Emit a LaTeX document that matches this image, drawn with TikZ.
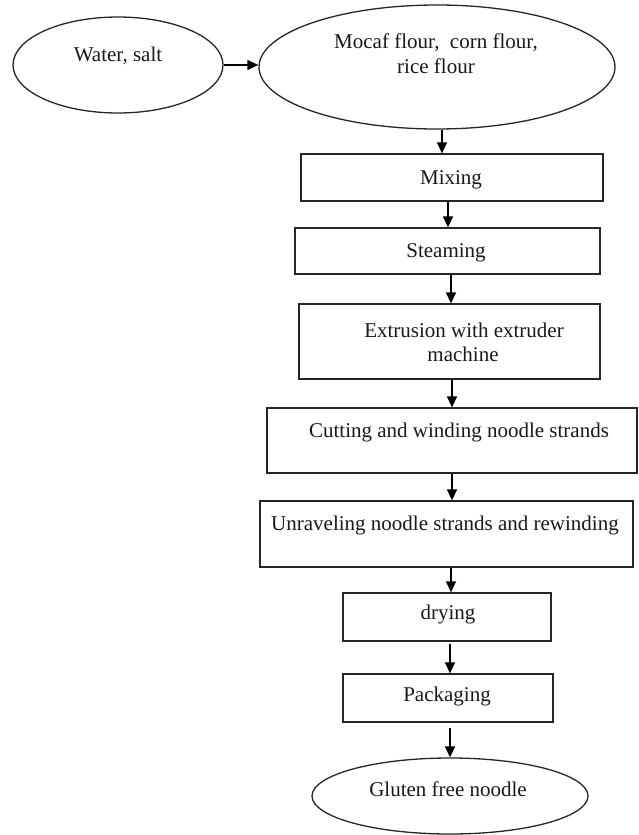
\documentclass[tikz,border=0pt]{standalone}
\usepackage{fontspec}
\setmainfont{Liberation Serif}
\usetikzlibrary{shapes.geometric,arrows.meta}
\begin{document}
\begin{tikzpicture}[x=1pt,y=-1pt,
  shapeline/.style={draw=black!85, line width=1.3pt},
  boxnode/.style={shapeline, rectangle, inner sep=0pt},
  ellnode/.style={shapeline, ellipse, inner sep=0pt},
  txt/.style={anchor=base, inner sep=0pt, font=\fontsize{21}{25}\selectfont, text=black!90},
  arr/.style={draw=black, line width=1.4pt, -{Triangle[length=11pt,width=10pt]}}
]
\useasboundingbox[fill=white] (0,0) rectangle (638,835);

% shapes
\node[ellnode, minimum width=210pt, minimum height=96pt] (e1) at (118,65) {};
\node[ellnode, minimum width=356pt, minimum height=124pt] (e2) at (437,67) {};
\node[boxnode, minimum width=302pt, minimum height=47pt] (mix) at (452,177.5) {};
\node[boxnode, minimum width=305pt, minimum height=46pt] (steam) at (447.5,251) {};
\node[boxnode, minimum width=301pt, minimum height=75pt] (extr) at (449.5,341.5) {};
\node[boxnode, minimum width=370pt, minimum height=65pt] (cut) at (452,440.5) {};
\node[boxnode, minimum width=373pt, minimum height=66pt] (unr) at (446.5,534) {};
\node[boxnode, minimum width=208pt, minimum height=48pt] (dry) at (447,617) {};
\node[boxnode, minimum width=210pt, minimum height=48pt] (pack) at (448,698) {};
\node[ellnode, minimum width=276pt, minimum height=76pt] (glut) at (450,796) {};

% texts
\node[txt] (t1) at (118,61) {Water, salt};
\node[txt] (t2a) at (436,48) {Mocaf flour,\ \ corn flour,};
\node[txt] (t2b) at (436,73) {rice flour};
\node[txt] (tmix) at (451,184) {Mixing};
\node[txt] (tsteam) at (446,257) {Steaming};
\node[txt] (textra) at (464,337) {Extrusion with extruder};
\node[txt] (textrb) at (463,361) {machine};
\node[txt] (tcut) at (459,437) {Cutting and winding noodle strands};
\node[txt] (tunr) at (445,530) {Unraveling noodle strands and rewinding};
\node[txt] (tdry) at (448,619) {drying};
\node[txt] (tpack) at (447,701) {Packaging};
\node[txt] (tglut) at (448,796) {Gluten free noodle};

% connectors
\draw[arr] (e1.east) -- (e1.east -| e2.west);
\draw[arr] ([xshift=5pt]e2.south) -- ([xshift=5pt]e2.south |- mix.north);
\draw[arr] ([xshift=-4pt]mix.south) -- ([xshift=-4pt]mix.south |- steam.north);
\draw[arr] ([xshift=3.5pt]steam.south) -- ([xshift=3.5pt]steam.south |- extr.north);
\draw[arr] ([xshift=2.5pt]extr.south) -- ([xshift=2.5pt]extr.south |- cut.north);
\draw[arr] (cut.south) -- (cut.south |- unr.north);
\draw[arr] ([xshift=4.5pt]unr.south) -- ([xshift=4.5pt]unr.south |- dry.north);
\draw[arr, shorten <=2pt] ([xshift=3pt]dry.south) -- ([xshift=3pt]dry.south |- pack.north);
\draw[arr, shorten <=5pt] ([xshift=2pt]pack.south) -- ([xshift=2pt]pack.south |- glut.north);
\end{tikzpicture}
\end{document}
